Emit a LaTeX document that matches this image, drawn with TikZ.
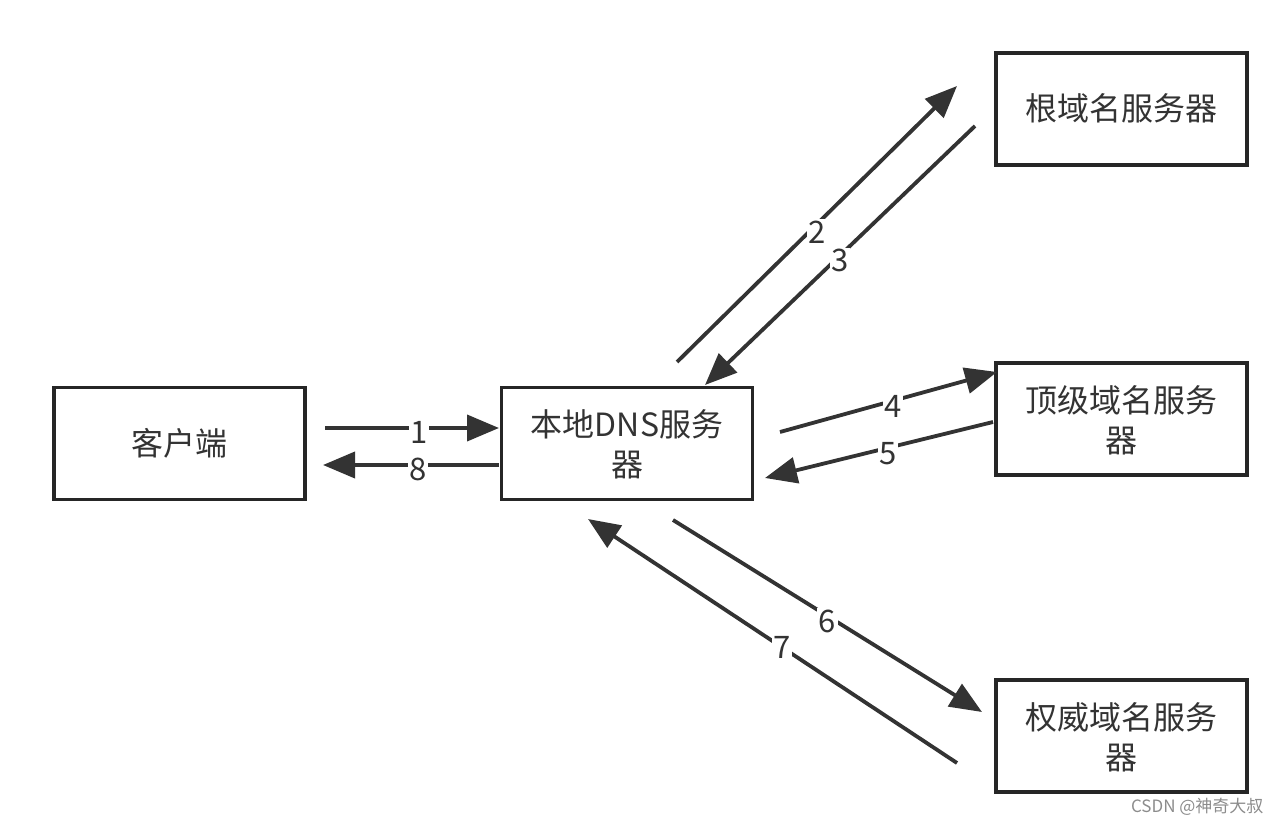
\documentclass[tikz,border=0pt]{standalone}
\usepackage{fontspec}
\setmainfont{Noto Sans CJK SC}
\usetikzlibrary{arrows.meta}
\newcommand{\boxtxt}[2]{\raisebox{#1}[\height][\depth]{\begin{tabular}{@{}c@{}}#2\end{tabular}}}
\tikzset{
  srvbox/.style={draw=black!85, line width=3.5pt, minimum width=251pt, minimum height=112pt, font=\fontsize{32}{40}\selectfont, text=black!80, inner sep=0pt},
  conn/.style={draw=black!80, line width=3.8pt, -{Triangle[length=32pt,width=26pt]}},
  num/.style={fill=white, inner sep=1.5pt, font=\fontsize{31}{32}\selectfont, text=black!80}
}
\begin{document}
\begin{tikzpicture}[x=1pt,y=-1pt]
\useasboundingbox (0,0) rectangle (1282,826);
\node[srvbox] (client) at (179.5,443.5) {\boxtxt{-3.5pt}{客户端}};
\node[srvbox] (local) at (627,443.5) {\boxtxt{-5pt}{本地DNS服务\\器}};
\node[srvbox] (root) at (1121.5,109) {\boxtxt{-3.5pt}{根域名服务器}};
\node[srvbox] (tld) at (1121.5,419) {\boxtxt{-5pt}{顶级域名服务\\器}};
\node[srvbox] (auth) at (1121.5,736) {\boxtxt{-5pt}{权威域名服务\\器}};
\coordinate (a1s) at (325,428); \coordinate (a1e) at (499,428);
\coordinate (a8s) at (499,465); \coordinate (a8e) at (323,465);
\coordinate (a2s) at (677,362); \coordinate (a2e) at (957,86);
\coordinate (a3s) at (975,126); \coordinate (a3e) at (705,385);
\coordinate (a4s) at (780,432); \coordinate (a4e) at (997,372);
\coordinate (a5s) at (993,422); \coordinate (a5e) at (765,478);
\coordinate (a6s) at (673,520); \coordinate (a6e) at (982,712);
\coordinate (a7s) at (957,763); \coordinate (a7e) at (588,519);
\draw[conn] (a1s) -- node[num, pos=0.54, yshift=-4pt] {1} (a1e);
\draw[conn] (a8s) -- node[num, pos=0.46, yshift=-4pt] {8} (a8e);
\draw[conn] (a2s) -- node[num, pos=0.50, yshift=-8pt] {2} (a2e);
\draw[conn] (a3s) -- node[num, pos=0.50, yshift=-5pt] {3} (a3e);
\draw[conn] (a4s) -- node[num, pos=0.52, yshift=-6pt] {4} (a4e);
\draw[conn] (a5s) -- node[num, pos=0.46, yshift=-6pt] {5} (a5e);
\draw[conn] (a6s) -- node[num, pos=0.50, yshift=-5pt] {6} (a6e);
\draw[conn] (a7s) -- node[num, pos=0.475, yshift=0pt] {7} (a7e);
\node[text=black!45, font=\fontsize{17}{19}\selectfont, anchor=east] (wm) at (1267,807) {CSDN @神奇大叔};
\end{tikzpicture}
\end{document}
